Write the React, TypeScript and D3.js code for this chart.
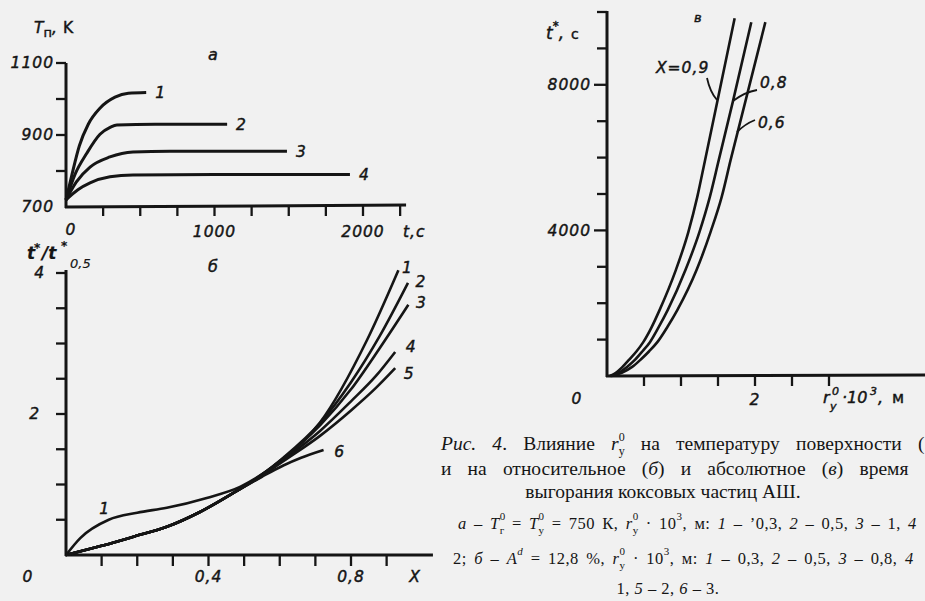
import React from 'react';
import * as d3 from 'd3';

// --- panel а: surface temperature Tп (K) vs time t (s), curves 1-4
const curveA1: [number, number][] = [[0, 720], [40, 790], [90, 870], [150, 930], [230, 975], [330, 1005], [420, 1016], [540, 1018]];
const curveA2: [number, number][] = [[0, 720], [60, 790], [141, 850], [229, 902], [300, 922], [343, 928], [600, 930], [1085, 930]];
const curveA3: [number, number][] = [[0, 720], [70, 770], [162, 811], [296, 839], [451, 853], [700, 855], [1488, 855]];
const curveA4: [number, number][] = [[0, 720], [80, 748], [162, 767], [296, 784], [451, 789], [1000, 790], [1912, 790]];
const labelsA = ['1', '2', '3', '4'];
const xTicksA = [250, 500, 750, 1000, 1250, 1500, 1750, 2000, 2250];
const yTicksA = [800, 900, 1000, 1100];
const xLabelsA = [1000, 2000];
const yLabelsA = [700, 900, 1100];

// --- panel б: relative burnout time t*/t*0,5 vs X, curves 1-6
const curveB1: [number, number][] = [[0, 0], [0.04, 0.24], [0.12, 0.5], [0.2, 0.6], [0.283, 0.67], [0.395, 0.81], [0.49, 0.97], [0.6, 1.33], [0.713, 1.88], [0.845, 3.05], [0.933, 4.04]];
const curveB2: [number, number][] = [[0, 0], [0.1, 0.13], [0.19, 0.26], [0.283, 0.4], [0.376, 0.61], [0.47, 0.88], [0.55, 1.14], [0.61, 1.38], [0.713, 1.87], [0.8, 2.45], [0.88, 3.1], [0.96, 3.86]];
const curveB3: [number, number][] = [[0, 0], [0.1, 0.13], [0.19, 0.26], [0.283, 0.4], [0.376, 0.61], [0.47, 0.88], [0.55, 1.14], [0.61, 1.37], [0.713, 1.84], [0.8, 2.35], [0.88, 2.93], [0.961, 3.55]];
const curveB4: [number, number][] = [[0, 0], [0.1, 0.13], [0.19, 0.26], [0.283, 0.4], [0.376, 0.61], [0.47, 0.88], [0.55, 1.13], [0.61, 1.35], [0.713, 1.76], [0.8, 2.18], [0.87, 2.54], [0.924, 2.88]];
const curveB5: [number, number][] = [[0, 0], [0.1, 0.13], [0.19, 0.26], [0.283, 0.4], [0.376, 0.61], [0.47, 0.88], [0.55, 1.12], [0.61, 1.33], [0.713, 1.69], [0.8, 2.05], [0.87, 2.37], [0.924, 2.65]];
const curveB6: [number, number][] = [[0, 0], [0.1, 0.13], [0.19, 0.26], [0.283, 0.4], [0.376, 0.61], [0.47, 0.88], [0.55, 1.11], [0.61, 1.27], [0.66, 1.38], [0.723, 1.49]];
const labelsB = ['1', '2', '3', '4', '5', '6'];
const xTicksB = [0.1, 0.2, 0.3, 0.4, 0.5, 0.6, 0.7, 0.8, 0.9];
const yTicksB = [0.5, 1, 1.5, 2, 2.5, 3, 3.5, 4];

// --- panel в: absolute burnout time t* (s) vs r0·10^3 (m), X = 0.9, 0.8, 0.6
const curveV09: [number, number][] = [[0.04, 0], [0.12, 90], [0.2, 230], [0.3, 450], [0.4, 680], [0.49, 930], [0.6, 1330], [0.71, 1810], [0.93, 2910], [1.1, 3960], [1.22, 4920], [1.325, 5930], [1.495, 7580], [1.725, 9830]];
const curveV08: [number, number][] = [[0.05, 0], [0.15, 80], [0.27, 250], [0.38, 450], [0.48, 680], [0.58, 930], [0.7, 1350], [0.82, 1810], [1.06, 2910], [1.25, 3960], [1.39, 4920], [1.51, 5930], [1.7, 7530], [1.95, 9720]];
const curveV06: [number, number][] = [[0.06, 0], [0.2, 90], [0.34, 250], [0.46, 460], [0.57, 680], [0.68, 930], [0.82, 1360], [0.95, 1810], [1.21, 2910], [1.4, 3960], [1.55, 4920], [1.67, 5930], [2.14, 9720]];
const xTicksV = [0.5, 1, 1.5, 2, 2.5, 3];
const yTicksV = [1000, 2000, 3000, 4000, 5000, 6000, 7000, 8000, 9000, 10000];

const ink = '#151515';
const paper = '#f1f1f1';
const hand = {
  fontFamily: 'DejaVu Sans',
  fontStyle: 'italic' as const,
  fontSize: 15.5,
  letterSpacing: 1,
  fill: ink,
  stroke: ink,
  strokeWidth: 0.45,
};
const serif = { fontFamily: 'Liberation Serif', fill: ink };

export default function App() {
  const xA = d3.scaleLinear().domain([0, 2000]).range([66, 363]);
  const yA = d3.scaleLinear().domain([700, 1100]).range([207, 63]);
  const xB = d3.scaleLinear().domain([0, 0.8]).range([66, 351]);
  const yB = d3.scaleLinear().domain([0, 4]).range([555, 273]);
  const xV = d3.scaleLinear().domain([0, 2]).range([607, 755]);
  const yV = d3.scaleLinear().domain([0, 10000]).range([376, 12]);

  const lineA = d3.line<[number, number]>().x((d) => xA(d[0])).y((d) => yA(d[1])).curve(d3.curveMonotoneX);
  const lineB = d3.line<[number, number]>().x((d) => xB(d[0])).y((d) => yB(d[1])).curve(d3.curveMonotoneX);
  const lineV = d3.line<[number, number]>().x((d) => xV(d[0])).y((d) => yV(d[1])).curve(d3.curveMonotoneX);

  const seriesA = [curveA1, curveA2, curveA3, curveA4];
  const seriesB = [curveB1, curveB2, curveB3, curveB4, curveB5, curveB6];
  const seriesV = [curveV09, curveV08, curveV06];
  // label nudges for panel б end labels
  const offB = [[9, -3], [13, -1], [13, -2], [16, -5], [14, 5], [16, 2]];

  const fmt = (v: number) => String(v).replace('.', ',');
  const supSize = 11;

  return (
    <svg width={925} height={601} style={{ position: 'absolute', left: 0, top: 0, background: paper }}>
      <rect width={925} height={601} fill={paper} />

      {/* ---------- panel а ---------- */}
      <g>
        <line x1={xA(0)} x2={xA(0)} y1={yA(700) + 1} y2={yA(1100)} stroke={ink} strokeWidth={3} />
        <line x1={xA(0) - 1} x2={xA(2290)} y1={yA(700)} y2={yA(700) - 2} stroke={ink} strokeWidth={3} />
        {yTicksA.map((t) => (
          <line key={t} x1={xA(0) - 10} x2={xA(0)} y1={yA(t)} y2={yA(t)} stroke={ink} strokeWidth={2.3} />
        ))}
        {xTicksA.map((t) => (
          <line key={t} x1={xA(t)} x2={xA(t)} y1={yA(700) - 1} y2={yA(700) + 9} stroke={ink} strokeWidth={2.3} />
        ))}
        {yLabelsA.map((t) => (
          <text key={t} x={54} y={yA(t)} dy="0.35em" textAnchor="end" style={hand}>{t}</text>
        ))}
        <text x={xA(0) + 5} y={235} textAnchor="middle" style={hand}>0</text>
        {xLabelsA.map((t) => (
          <text key={t} x={xA(t)} y={237} textAnchor="middle" style={hand}>{t}</text>
        ))}
        <text x={403} y={237} style={hand}>t,c</text>
        <text x={34} y={33} style={{ ...hand, letterSpacing: 0 }}>
          T<tspan fontStyle="normal" fontSize={13} dy={4}>п</tspan>
          <tspan dy={-4}>,</tspan>
          <tspan fontStyle="normal" dx={6}>K</tspan>
        </text>
        <text x={208} y={60} style={{ ...hand, fontSize: 16 }}>a</text>
        {seriesA.map((s, i) => (
          <path key={i} d={lineA(s) ?? ''} fill="none" stroke={ink} strokeWidth={3} />
        ))}
        {seriesA.map((s, i) => (
          <text key={i} x={xA(s[s.length - 1][0]) + 9} y={yA(s[s.length - 1][1])} dy="0.35em" style={hand}>
            {labelsA[i]}
          </text>
        ))}
      </g>

      {/* ---------- panel б ---------- */}
      <g>
        <line x1={xB(0)} x2={xB(0)} y1={yB(0) + 1} y2={yB(4) - 3} stroke={ink} strokeWidth={3} />
        <line x1={xB(0) - 1} x2={xB(1.03)} y1={yB(0)} y2={yB(0)} stroke={ink} strokeWidth={3} />
        {yTicksB.map((t) => (
          <line key={t} x1={xB(0) - 10} x2={xB(0)} y1={yB(t)} y2={yB(t)} stroke={ink} strokeWidth={2.3} />
        ))}
        {xTicksB.map((t) => (
          <line key={t} x1={xB(t)} x2={xB(t)} y1={yB(0)} y2={yB(0) + 11} stroke={ink} strokeWidth={2.3} />
        ))}
        <text x={45} y={yB(4)} dy="0.35em" textAnchor="end" style={hand}>4</text>
        <text x={40} y={yB(2)} dy="0.35em" textAnchor="end" style={hand}>2</text>
        <text x={28} y={582} textAnchor="middle" style={hand}>0</text>
        {[0.4, 0.8].map((t) => (
          <text key={t} x={xB(t)} y={582} textAnchor="middle" style={hand}>{fmt(t)}</text>
        ))}
        <text x={415} y={582} textAnchor="middle" style={hand}>X</text>
        <text style={{ ...hand, fontSize: 17, fontWeight: 'bold', letterSpacing: 0, strokeWidth: 0.2 }}>
          <tspan x={27} y={259}>t</tspan>
          <tspan x={34} y={252} fontSize={12}>*</tspan>
          <tspan x={42} y={259}>/t</tspan>
          <tspan x={61} y={250} fontSize={12}>*</tspan>
          <tspan x={70} y={268} fontSize={13} fontWeight="normal">0,5</tspan>
        </text>
        <text x={208} y={272} style={{ ...hand, fontSize: 16 }}>б</text>
        {seriesB.map((s, i) => (
          <path key={i} d={lineB(s) ?? ''} fill="none" stroke={ink} strokeWidth={2.6} />
        ))}
        {seriesB.map((s, i) => (
          <text key={i} x={xB(s[s.length - 1][0]) + offB[i][0]} y={yB(s[s.length - 1][1]) + offB[i][1]} dy="0.35em" textAnchor="middle" style={hand}>
            {labelsB[i]}
          </text>
        ))}
        <text x={xB(curveB1[2][0]) - 4} y={yB(curveB1[2][1]) - 6} textAnchor="middle" style={hand}>1</text>
      </g>

      {/* ---------- panel в ---------- */}
      <g>
        <line x1={xV(0)} x2={xV(0)} y1={yV(0) + 1} y2={yV(10000) - 1} stroke={ink} strokeWidth={3} />
        <line x1={xV(0) - 1} x2={925} y1={yV(0)} y2={yV(0) - 1} stroke={ink} strokeWidth={3} />
        {yTicksV.map((t) => (
          <line key={t} x1={xV(0) - (t % 4000 === 0 ? 13 : 10)} x2={xV(0)} y1={yV(t)} y2={yV(t)} stroke={ink} strokeWidth={2.3} />
        ))}
        {xTicksV.map((t) => (
          <line key={t} x1={xV(t)} x2={xV(t)} y1={yV(0)} y2={yV(0) + 10} stroke={ink} strokeWidth={2.3} />
        ))}
        {[4000, 8000].map((t) => (
          <text key={t} x={591} y={yV(t)} dy="0.35em" textAnchor="end" style={hand}>{t}</text>
        ))}
        <text x={577} y={404} textAnchor="middle" style={hand}>0</text>
        <text x={xV(2)} y={405} textAnchor="middle" style={hand}>2</text>
        <text x={546} y={39} style={{ ...hand, letterSpacing: 0, fontSize: 17 }}>
          t<tspan fontSize={12} dy={-9}>*</tspan>
          <tspan dy={9}>,</tspan>
          <tspan fontStyle="normal" fontSize={14} dx={7}>c</tspan>
        </text>
        <text style={{ ...hand, letterSpacing: 0, fontSize: 16 }}>
          <tspan x={823} y={403}>r</tspan>
          <tspan x={832} y={395} fontSize={supSize}>0</tspan>
          <tspan x={830} y={410} fontSize={supSize}>y</tspan>
          <tspan x={842} y={403}>·10</tspan>
          <tspan x={870} y={395} fontSize={supSize}>3</tspan>
          <tspan x={878} y={403}>,</tspan>
          <tspan x={892} y={403} fontStyle="normal">м</tspan>
        </text>
        <text x={694} y={22} style={{ ...hand, fontSize: 13 }}>в</text>
        {seriesV.map((s, i) => (
          <path key={i} d={lineV(s) ?? ''} fill="none" stroke={ink} strokeWidth={2.6} />
        ))}
        <path d="M707,78 Q710,92 717,100" fill="none" stroke={ink} strokeWidth={1.8} />
        <path d="M757,90 Q745,92 733,101" fill="none" stroke={ink} strokeWidth={1.8} />
        <path d="M755,120 Q745,124 737,132" fill="none" stroke={ink} strokeWidth={1.8} />
        <text x={656} y={73} style={hand}>X=0,9</text>
        <text x={760} y={88} style={hand}>0,8</text>
        <text x={758} y={128} style={hand}>0,6</text>
      </g>

      {/* ---------- caption ---------- */}
      <g style={{ ...serif, fontSize: 19.5, wordSpacing: 11.3 }}>
        <text x={441} y={450}>
          <tspan fontStyle="italic">Рис. 4</tspan>. Влияние <tspan fontStyle="italic">r</tspan>
          <tspan fontSize={12} dy={-9}>0</tspan>
          <tspan fontSize={12} dx={-6} dy={14}>у</tspan>
          <tspan dy={-5}> на температуру поверхности (</tspan>
        </text>
        <text x={441} y={475}>
          и на относительное (<tspan fontStyle="italic">б</tspan>) и абсолютное (<tspan fontStyle="italic">в</tspan>) время
        </text>
      </g>
      <g style={{ ...serif, fontSize: 19.5 }}>
        <text x={663} y={498} textAnchor="middle">выгорания коксовых частиц АШ.</text>
      </g>
      <g style={{ ...serif, fontSize: 16.5, letterSpacing: 0.5 }}>
        <text x={458} y={529} style={{ wordSpacing: 2.6 }}>
          <tspan fontStyle="italic">a</tspan> – <tspan fontStyle="italic">T</tspan>
          <tspan fontSize={supSize} dy={-9}>0</tspan>
          <tspan fontSize={supSize} dx={-6} dy={14}>г</tspan>
          <tspan dy={-5}> = </tspan>
          <tspan fontStyle="italic">T</tspan>
          <tspan fontSize={supSize} dy={-9}>0</tspan>
          <tspan fontSize={supSize} dx={-6} dy={14}>у</tspan>
          <tspan dy={-5}> = 750 К, </tspan>
          <tspan fontStyle="italic">r</tspan>
          <tspan fontSize={supSize} dy={-9}>0</tspan>
          <tspan fontSize={supSize} dx={-6} dy={14}>у</tspan>
          <tspan dy={-5}> · 10</tspan>
          <tspan fontSize={supSize} dy={-9}>3</tspan>
          <tspan dy={9}>, м: </tspan>
          <tspan fontStyle="italic">1</tspan> – ’0,3, <tspan fontStyle="italic">2</tspan> – 0,5, <tspan fontStyle="italic">3</tspan> – 1, <tspan fontStyle="italic">4</tspan>
        </text>
        <text x={453} y={564} style={{ wordSpacing: 2.8 }}>
          2; <tspan fontStyle="italic">б</tspan> – <tspan fontStyle="italic">A</tspan>
          <tspan fontSize={supSize} fontStyle="italic" dy={-9}>d</tspan>
          <tspan dy={9}> = 12,8 %, </tspan>
          <tspan fontStyle="italic">r</tspan>
          <tspan fontSize={supSize} dy={-9}>0</tspan>
          <tspan fontSize={supSize} dx={-6} dy={14}>у</tspan>
          <tspan dy={-5}> · 10</tspan>
          <tspan fontSize={supSize} dy={-9}>3</tspan>
          <tspan dy={9}>, м: </tspan>
          <tspan fontStyle="italic">1</tspan> – 0,3, <tspan fontStyle="italic">2</tspan> – 0,5, <tspan fontStyle="italic">3</tspan> – 0,8, <tspan fontStyle="italic">4</tspan>
        </text>
        <text x={668} y={594} textAnchor="middle">
          1, <tspan fontStyle="italic">5</tspan> – 2, <tspan fontStyle="italic">6</tspan> – 3.
        </text>
      </g>
    </svg>
  );
}
